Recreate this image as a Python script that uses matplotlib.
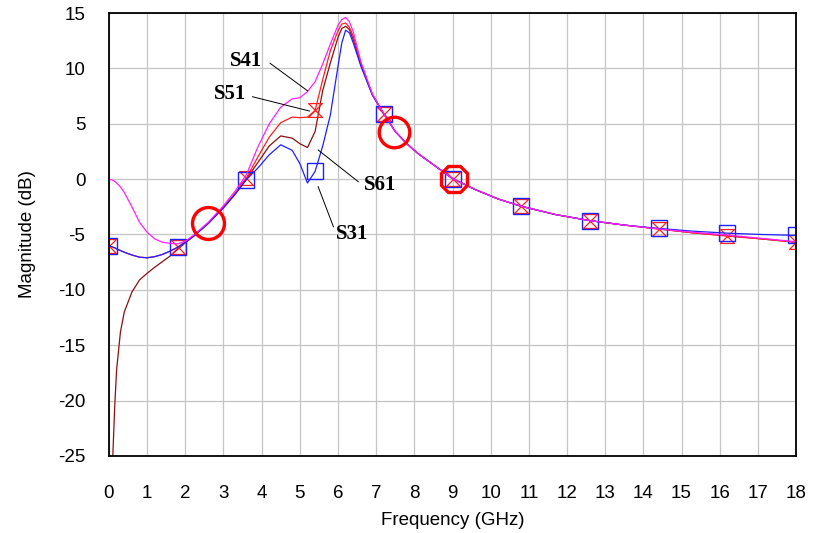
import numpy as np
import matplotlib
matplotlib.use('Agg')
import matplotlib.pyplot as plt
from matplotlib.path import Path

# frequency grid (GHz) shared by the four traces
freq = [0, 0.1, 0.15, 0.2, 0.3, 0.4, 0.6, 0.8, 1.0, 1.2, 1.4, 1.6, 1.8, 2.0, 2.2, 2.6,
        3.0, 3.3, 3.6, 3.9, 4.2, 4.5, 4.8, 5.0, 5.2, 5.4, 5.6, 5.8, 6.0, 6.1, 6.2, 6.3,
        6.4, 6.6, 6.9, 7.2, 7.5, 7.8, 8.1, 8.5, 9.0, 9.6, 10.2, 10.8, 11.7, 12.6, 13.5,
        14.4, 15.3, 16.2, 17.1, 18.0]

s31 = [-6.0, -6.15, -6.2, -6.3, -6.45, -6.6, -6.85, -7.05, -7.1, -7.0, -6.8, -6.5, -6.15,
       -5.7, -5.2, -4.0, -2.6, -1.4, -0.05, 1.0, 2.2, 3.1, 2.6, 1.4, -0.35, 0.7, 3.0, 5.8,
       10.2, 12.3, 13.45, 13.2, 12.3, 10.2, 7.6, 5.9, 4.3, 3.2, 2.3, 1.3, 0.05, -0.95,
       -1.8, -2.45, -3.2, -3.75, -4.15, -4.45, -4.7, -4.88, -5.0, -5.08]

s41 = [0.0, -0.1, -0.2, -0.35, -0.7, -1.2, -2.5, -3.9, -4.8, -5.4, -5.7, -5.8, -5.85,
       -5.6, -5.1, -3.9, -2.4, -1.1, 0.4, 2.9, 5.0, 6.5, 7.25, 7.35, 7.9, 8.8, 10.4, 12.2,
       13.9, 14.4, 14.6, 14.2, 13.3, 10.6, 7.7, 5.9, 4.3, 3.2, 2.3, 1.3, 0.05, -0.95,
       -1.8, -2.45, -3.2, -3.75, -4.15, -4.5, -4.8, -5.05, -5.35, -5.65]

s51 = [-6.0, -6.15, -6.2, -6.3, -6.45, -6.6, -6.85, -7.05, -7.1, -7.0, -6.8, -6.5, -6.15,
       -5.7, -5.2, -4.0, -2.5, -1.3, 0.1, 2.0, 3.8, 5.1, 5.6, 5.55, 5.6, 6.2, 9.0, 11.6,
       13.4, 14.0, 14.1, 13.7, 12.9, 10.4, 7.65, 5.9, 4.3, 3.2, 2.3, 1.3, 0.05, -0.95,
       -1.8, -2.45, -3.2, -3.75, -4.15, -4.5, -4.85, -5.15, -5.4, -5.7]

s61 = [-40.0, -25.0, -20.5, -17.2, -13.8, -12.0, -10.2, -9.1, -8.5, -7.95, -7.45, -6.95,
       -6.35, -5.75, -5.2, -4.0, -2.55, -1.35, 0.0, 1.5, 3.0, 3.9, 3.7, 3.2, 2.85, 4.3, 8.0,
       10.5, 12.8, 13.6, 13.8, 13.5, 12.6, 10.3, 7.6, 5.9, 4.3, 3.2, 2.3, 1.3, 0.05, -0.95,
       -1.8, -2.45, -3.2, -3.75, -4.15, -4.5, -4.85, -5.1, -5.4, -5.7]

marker_freqs = [0, 1.8, 3.6, 5.4, 7.2, 9.0, 10.8, 12.6, 14.4, 16.2, 18.0]

# trace labels: text position, leader start, leader end
labels = {
    'S41': ((3.60, 10.71), (4.22, 10.46), (5.20, 7.98)),
    'S51': ((3.17, 7.69), (3.76, 7.44), (5.25, 6.15)),
    'S61': ((7.11, -0.53), (6.53, -0.23), (5.48, 2.63)),
    'S31': ((6.38, -5.00), (5.88, -4.30), (5.48, -0.68)),
}

# highlighted points (x, y, marker, size)
rings = [(2.60, -3.93, 'o', 23), (7.48, 4.3, 'o', 22), (9.05, 0.01, '8', 21)]

mk = [freq.index(v) for v in marker_freqs]

hourglass = Path([(-1, 1), (1, 1), (-1, -1), (1, -1), (-1, 1)],
                 [Path.MOVETO, Path.LINETO, Path.LINETO, Path.LINETO, Path.LINETO])

plt.rcParams['font.family'] = ['Liberation Sans', 'DejaVu Sans']
plt.rcParams['axes.unicode_minus'] = False

fig = plt.figure(figsize=(8.14, 5.33), dpi=100)
ax = fig.add_axes([0.1339, 0.1445, 0.8440, 0.8311])

ax.plot(freq, s61, color='#8b1010', lw=0.9, zorder=3)
ax.plot(freq, s51, color='#ff2020', lw=0.9, zorder=4, marker=hourglass,
        markevery=mk, ms=10, mfc='none', mec='#ff2020', mew=0.9)
ax.plot(freq, s31, color='#2020ff', lw=0.9, zorder=5, marker='s',
        markevery=mk, ms=11, mfc='none', mec='#2020ff', mew=1.0)
ax.plot(freq, s41, color='#ff20ff', lw=0.9, zorder=6)

for x, y, m, s in rings:
    ax.plot([x], [y], marker=m, ms=s, mfc='none', mec='#ff0000', mew=2.4, zorder=7)

for name, (txt, p0, p1) in labels.items():
    ax.plot([p0[0], p1[0]], [p0[1], p1[1]], color='black', lw=0.7, zorder=8)
    ax.text(txt[0], txt[1], name, ha='center', va='center', fontsize=15,
            fontweight='bold', family='Liberation Serif', zorder=9)

ax.set_xlim(0, 18)
ax.set_ylim(-25, 15)
ax.set_xticks(range(0, 19))
ax.set_yticks(range(-25, 16, 5))
ax.grid(True, color='#c4c4c4', lw=0.9)
ax.set_axisbelow(True)
ax.tick_params(length=0, labelsize=13.5)
ax.tick_params(axis='x', pad=21)
ax.tick_params(axis='y', pad=17)
for sp in ax.spines.values():
    sp.set_linewidth(1.3)
    sp.set_zorder(10)

ax.set_xlabel('Frequency (GHz)', fontsize=13.5, labelpad=7)
ax.set_ylabel('Magnitude (dB)', fontsize=13.5, labelpad=16)

fig.savefig('out.png', dpi=100)
